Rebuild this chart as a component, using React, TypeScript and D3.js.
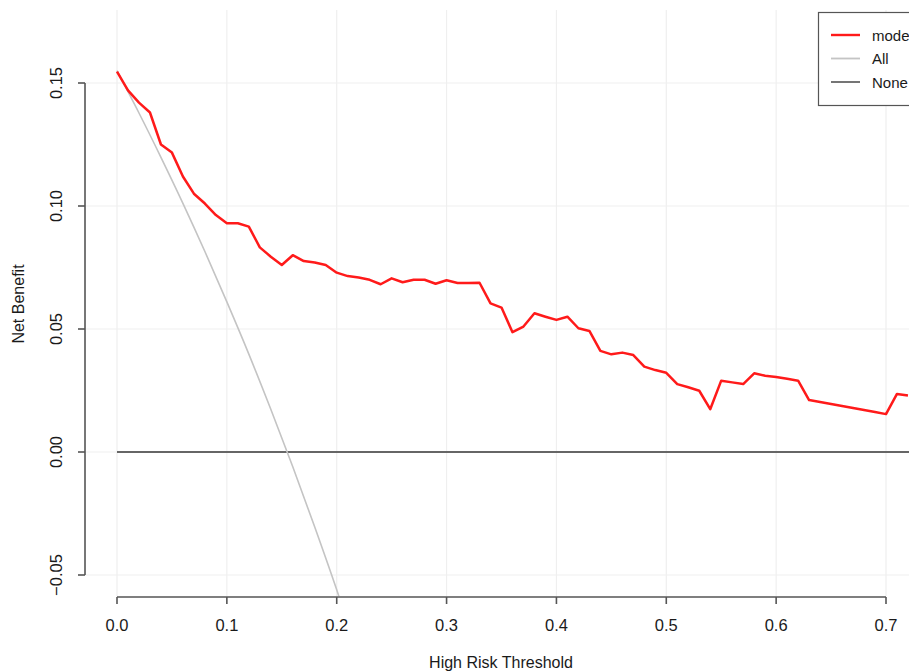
import React from "react";
import * as d3 from "d3";

const thresholds = d3.range(0, 0.7201, 0.01).map((v) => +v.toFixed(2));
const modelNB = [
  0.1546, 0.147, 0.142, 0.138, 0.125, 0.1217, 0.112, 0.105, 0.101, 0.0963,
  0.093, 0.093, 0.0916, 0.0832, 0.0794, 0.076, 0.08, 0.0776, 0.077, 0.076,
  0.0729, 0.0715, 0.0709, 0.07, 0.0682, 0.0706, 0.069, 0.07, 0.07, 0.0684,
  0.0698, 0.0687, 0.0687, 0.0688, 0.0604, 0.0587, 0.0487, 0.051, 0.0564, 0.055,
  0.0537, 0.055, 0.0503, 0.0492, 0.0411, 0.0397, 0.0404, 0.0394, 0.0347, 0.0333,
  0.0322, 0.0276, 0.0263, 0.0249, 0.0174, 0.029, 0.0283, 0.0276, 0.032, 0.031,
  0.0305, 0.0298, 0.029, 0.0211, 0.0203, 0.0195, 0.0187, 0.0179, 0.0171, 0.0163,
  0.0154, 0.0236, 0.023,
];
const allThresholds = [0, 0.02, 0.04, 0.06, 0.08, 0.1, 0.12, 0.14, 0.16, 0.18, 0.2, 0.22];
const allNB = [0.155, 0.1378, 0.1198, 0.1011, 0.0815, 0.061, 0.0398, 0.0174, -0.006, -0.0305, -0.056, -0.083];
const xTicks = [0, 0.1, 0.2, 0.3, 0.4, 0.5, 0.6, 0.7];
const yTicks = [-0.05, 0, 0.05, 0.1, 0.15];
const legendLabels = ["model", "All", "None"];
const legendColors = ["#ff1a1a", "#c4c4c4", "#666666"];

const W = 909;
const H = 672;
const plotLeft = 85;
const plotTop = 10;
const plotBottom = 596;
const plotRight = 960;

const x = d3.scaleLinear().domain([0, 0.7]).range([117, 886]);
const y = d3.scaleLinear().domain([-0.05, 0.15]).range([575, 83]);

export default function App() {
  const line = d3
    .line<[number, number]>()
    .x((d) => x(d[0]))
    .y((d) => y(d[1]));
  const modelPts: [number, number][] = thresholds.map((t, i) => [t, modelNB[i]]);
  const allPts: [number, number][] = allThresholds.map((t, i) => [t, allNB[i]]);
  const curve = d3
    .line<[number, number]>()
    .x((d) => x(d[0]))
    .y((d) => y(d[1]))
    .curve(d3.curveMonotoneX);
  const font = "'Liberation Sans', Arial, Helvetica, sans-serif";
  const axisColor = "#555555";
  const gridColor = "#efefef";
  return (
    <svg
      width={W}
      height={H}
      style={{ position: "absolute", left: 0, top: 0, background: "#fff" }}
      fontFamily={font}
    >
      <defs>
        <clipPath id="plotclip">
          <rect x={plotLeft} y={plotTop} width={plotRight - plotLeft} height={plotBottom - plotTop} />
        </clipPath>
      </defs>
      <rect width={W} height={H} fill="#fff" />
      <g>
        {xTicks.map((t) => (
          <line key={"gx" + t} x1={x(t)} x2={x(t)} y1={plotTop} y2={plotBottom} stroke={gridColor} strokeWidth={1.2} />
        ))}
        {yTicks.map((t) => (
          <line key={"gy" + t} x1={plotLeft} x2={plotRight} y1={y(t)} y2={y(t)} stroke={gridColor} strokeWidth={1.2} />
        ))}
      </g>
      <g clipPath="url(#plotclip)">
        <line x1={x(0)} x2={plotRight} y1={y(0)} y2={y(0)} stroke="#666666" strokeWidth={2.2} />
        <path d={curve(allPts) || ""} fill="none" stroke="#c4c4c4" strokeWidth={1.6} />
        <path d={line(modelPts) || ""} fill="none" stroke="#ff1a1a" strokeWidth={2.5} strokeLinejoin="round" />
      </g>
      <g stroke={axisColor} strokeWidth={1.6}>
        <line x1={plotLeft} x2={plotLeft} y1={y(0.15)} y2={y(-0.05)} />
        {yTicks.map((t) => (
          <line key={"ty" + t} x1={plotLeft - 7} x2={plotLeft} y1={y(t)} y2={y(t)} />
        ))}
      </g>
      {yTicks.map((t) => (
        <text
          key={"ly" + t}
          transform={`translate(${62},${y(t)}) rotate(-90)`}
          textAnchor="middle"
          fontSize={16.5}
          fill="#1a1a1a"
        >
          {d3.format(".2f")(t)}
        </text>
      ))}
      <text transform={`translate(24,304) rotate(-90)`} textAnchor="middle" fontSize={16} fill="#1a1a1a">
        Net Benefit
      </text>
      <g stroke={axisColor} strokeWidth={1.6}>
        <line x1={x(0)} x2={x(0.7)} y1={597} y2={597} />
        {xTicks.map((t) => (
          <line key={"tx" + t} x1={x(t)} x2={x(t)} y1={597} y2={604} />
        ))}
      </g>
      {xTicks.map((t) => (
        <text key={"lx" + t} x={x(t)} y={631} textAnchor="middle" fontSize={16.5} fill="#1a1a1a">
          {d3.format(".1f")(t)}
        </text>
      ))}
      <text x={501} y={668} textAnchor="middle" fontSize={16} fill="#1a1a1a">
        High Risk Threshold
      </text>
      <rect x={818.5} y={12.5} width={140} height={93} fill="#fff" stroke={axisColor} strokeWidth={1.2} />
      {legendLabels.map((lab, i) => (
        <g key={lab}>
          <line
            x1={831}
            x2={860}
            y1={35 + i * 23.5}
            y2={35 + i * 23.5}
            stroke={legendColors[i]}
            strokeWidth={i === 0 ? 2.4 : 1.8}
          />
          <text x={872} y={35 + i * 23.5 + 5.5} fontSize={15} fill="#1a1a1a">
            {lab}
          </text>
        </g>
      ))}
    </svg>
  );
}
